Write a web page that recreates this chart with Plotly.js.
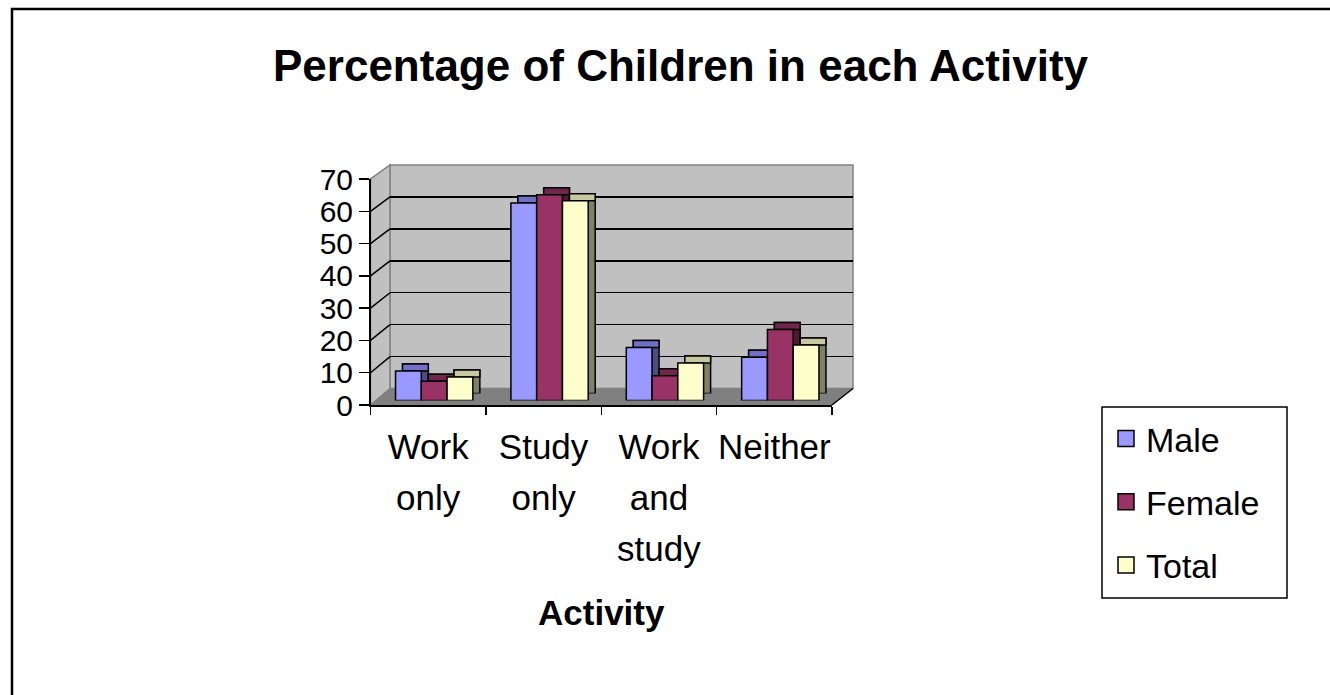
<!DOCTYPE html>
<html><head><meta charset="utf-8">
<script src="https://cdn.plot.ly/plotly-3.0.1.min.js"></script>
<style>html,body{margin:0;padding:0;background:#fff;} #chart{width:1330px;height:695px;}</style>
</head><body><div id="chart"></div>
<script>
// ---- data ----
const categories = ['Work only', 'Study only', 'Work and study', 'Neither'];
const tickLabels = ['Work<br>only', 'Study<br>only', 'Work<br>and<br>study', 'Neither'];
const seriesNames = ['Male', 'Female', 'Total'];
const male = [9.1, 61.2, 16.4, 13.4];
const female = [6.0, 63.7, 7.7, 22.0];
const total = [7.3, 61.9, 11.6, 17.2];
const yTicks = [0, 10, 20, 30, 40, 50, 60, 70];
const gridTicks = [10, 20, 30, 40, 50, 60];

// ---- styles ----
const FONT = 'Liberation Sans, Arial, sans-serif';
const frontColors = ['#9999FF', '#993366', '#FFFFCC'];
const topColors = ['#7070C8', '#70264C', '#C8C8A0'];
const sideColors = ['#4D4D80', '#4D1A33', '#808066'];
const W = 1330, H = 695;
const fx = p => p / W, fy = p => 1 - p / H;

// geometry (px)
const FA = {x0: 370.5, x1: 832, y0: 405, y70: 179};     // front axis
const BW = {x0: 390, x1: 853, y0: 388.5, y70: 165};     // back wall
const BF = {x0: 376.5, x1: 838, y0: 400.5, y70: 174.5}; // bar front faces
const DX = 7, DY = 7;                                   // bar depth
const SH = {x0: BF.x0 + DX, x1: BF.x1 + DX, y0: BF.y0 - DY, y70: BF.y70 - DY};
const depthUnits = DY * 70 / (BF.y0 - BF.y70);

const series = [male, female, total];
const groups = ['m', 'f', 't'];
const traces = [];
// back wall subplot (grid only)
traces.push({type: 'scatter', x: [null], y: [null], xaxis: 'x', yaxis: 'y', showlegend: false, hoverinfo: 'skip'});
// side faces
series.forEach((vals, i) => traces.push({
  type: 'bar', x: categories, y: vals, xaxis: 'x2', yaxis: 'y2', offsetgroup: groups[i],
  marker: {color: sideColors[i], line: {color: '#000', width: 1.5}}, showlegend: false, hoverinfo: 'skip'
}));
// top faces
series.forEach((vals, i) => traces.push({
  type: 'bar', x: categories, y: vals.map(() => depthUnits), base: vals.map(v => v - depthUnits),
  xaxis: 'x2', yaxis: 'y2', offsetgroup: groups[i],
  marker: {color: topColors[i], line: {color: '#000', width: 1.5}}, showlegend: false, hoverinfo: 'skip'
}));
// front faces
series.forEach((vals, i) => traces.push({
  type: 'bar', x: categories, y: vals, name: seriesNames[i], xaxis: 'x3', yaxis: 'y3', offsetgroup: groups[i],
  marker: {color: frontColors[i], line: {color: '#000', width: 1.5}}, showlegend: false
}));
// front axis subplot
traces.push({type: 'scatter', x: categories, y: categories.map(() => null), xaxis: 'x4', yaxis: 'y4', showlegend: false, hoverinfo: 'skip'});
// legend entries
series.forEach((vals, i) => traces.push({
  type: 'scatter', mode: 'markers', x: [null], y: [null], xaxis: 'x4', yaxis: 'y4', name: seriesNames[i],
  legendgroup: groups[i], marker: {symbol: 'square', size: 20, color: frontColors[i], line: {color: '#000', width: 1.5}}
}));

const hiddenAx = (dom, extra) => Object.assign({domain: dom, showgrid: false, zeroline: false, showline: false,
  showticklabels: false, ticks: '', fixedrange: true}, extra);

const P = (x, y) => fx(x).toFixed(5) + ',' + fy(y).toFixed(5);
const shapes = [
  {type: 'rect', xref: 'paper', yref: 'paper', x0: fx(BW.x0), x1: fx(BW.x1), y0: fy(BW.y0), y1: fy(BW.y70),
   fillcolor: '#C0C0C0', line: {color: '#808080', width: 1.5}, layer: 'below'},
  {type: 'path', xref: 'paper', yref: 'paper',
   path: 'M' + P(FA.x0, FA.y0) + 'L' + P(BW.x0, BW.y0) + 'L' + P(BW.x0, BW.y70) + 'L' + P(FA.x0, FA.y70) + 'Z',
   fillcolor: '#C0C0C0', line: {color: '#808080', width: 1.5}, layer: 'below'},
  {type: 'path', xref: 'paper', yref: 'paper',
   path: 'M' + P(FA.x0, FA.y0) + 'L' + P(FA.x1, FA.y0) + 'L' + P(BW.x1, BW.y0) + 'L' + P(BW.x0, BW.y0) + 'Z',
   fillcolor: '#808080', line: {width: 0}, layer: 'below'},
  {type: 'line', xref: 'paper', yref: 'paper', x0: fx(FA.x1), y0: fy(FA.y0), x1: fx(BW.x1), y1: fy(BW.y0),
   line: {color: '#000', width: 1.5}, layer: 'below'},
  {type: 'rect', xref: 'paper', yref: 'paper', x0: fx(12), y0: -0.2, x1: 1.2, y1: fy(9),
   line: {color: '#000', width: 2.5}, fillcolor: 'rgba(0,0,0,0)', layer: 'above'},
  {type: 'rect', xref: 'paper', yref: 'paper', x0: fx(1102), x1: fx(1287), y0: fy(598), y1: fy(407),
   line: {color: '#000', width: 1.5}, fillcolor: 'rgba(0,0,0,0)', layer: 'above'}
];
gridTicks.forEach(v => {
  const yf = FA.y0 - v * (FA.y0 - FA.y70) / 70;
  const yb = BW.y0 - v * (BW.y0 - BW.y70) / 70;
  shapes.push({type: 'line', xref: 'paper', yref: 'paper', x0: fx(FA.x0), y0: fy(yf), x1: fx(BW.x0), y1: fy(yb),
    line: {color: '#000', width: 1.5}, layer: 'below'});
});

const layout = {
  width: W, height: H, margin: {l: 0, r: 0, t: 0, b: 0},
  paper_bgcolor: '#FFFFFF', plot_bgcolor: 'rgba(0,0,0,0)',
  font: {family: FONT, color: '#000'},
  title: {text: 'Percentage of Children in each Activity', font: {family: FONT, size: 44, weight: 'bold', color: '#000'},
    x: fx(680.5), xanchor: 'center', xref: 'paper', y: fy(66), yanchor: 'middle', yref: 'paper'},
  barmode: 'group', bargap: 0.33, bargroupgap: 0,
  showlegend: true,
  legend: {x: fx(1106), y: fy(410), xanchor: 'left', yanchor: 'top', font: {family: FONT, size: 34, color: '#000'},
    bgcolor: 'rgba(0,0,0,0)', borderwidth: 0, tracegroupgap: 16, traceorder: 'grouped', itemsizing: 'trace'},
  xaxis: hiddenAx([fx(BW.x0), fx(BW.x1)], {range: [-0.5, 3.5], anchor: 'y'}),
  yaxis: hiddenAx([fy(BW.y0), fy(BW.y70)], {range: [0, 70], anchor: 'x', tickmode: 'array', tickvals: gridTicks,
    showgrid: true, gridcolor: '#000', gridwidth: 1.5}),
  xaxis2: hiddenAx([fx(SH.x0), fx(SH.x1)], {type: 'category', range: [-0.5, 3.5], anchor: 'y2'}),
  yaxis2: hiddenAx([fy(SH.y0), fy(SH.y70)], {range: [0, 70], anchor: 'x2'}),
  xaxis3: hiddenAx([fx(BF.x0), fx(BF.x1)], {type: 'category', range: [-0.5, 3.5], anchor: 'y3'}),
  yaxis3: hiddenAx([fy(BF.y0), fy(BF.y70)], {range: [0, 70], anchor: 'x3'}),
  xaxis4: {domain: [fx(FA.x0), fx(FA.x1)], type: 'category', range: [-0.5, 3.5], anchor: 'y4',
    tickmode: 'array', tickvals: categories, tickangle: 0, ticklabelstandoff: 6,
    ticktext: tickLabels.map(t => t.split('<br>').map(s => '<span style="font-size:35px">' + s + '</span>').join('<br>')),
    tickson: 'boundaries', ticks: 'outside', ticklen: 8, tickwidth: 1.5, tickcolor: '#000',
    showline: true, linecolor: '#000', linewidth: 1.5, showgrid: false, zeroline: false, fixedrange: true,
    tickfont: {family: FONT, size: 39, color: '#000'},
    title: {text: 'Activity', font: {family: FONT, size: 35, weight: 'bold', color: '#000'}, standoff: 34}},
  yaxis4: {domain: [fy(FA.y0), fy(FA.y70)], range: [0, 70], anchor: 'x4', tickmode: 'array', tickvals: yTicks,
    ticks: 'outside', ticklen: 10, tickwidth: 1.5, tickcolor: '#000',
    showline: true, linecolor: '#000', linewidth: 1.5, showgrid: false, zeroline: false, fixedrange: true,
    tickfont: {family: FONT, size: 30, color: '#000'}},
  shapes: shapes
};

Plotly.newPlot('chart', traces, layout, {staticPlot: true, displayModeBar: false});
</script>
</body></html>
